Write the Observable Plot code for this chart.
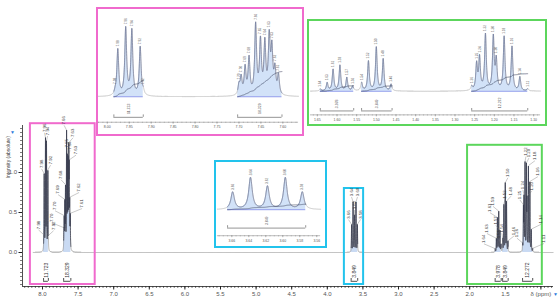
<!DOCTYPE html>
<html><head><meta charset="utf-8">
<script src="https://cdn.jsdelivr.net/npm/d3@7"></script>
<script src="https://cdn.jsdelivr.net/npm/@observablehq/plot@0.6"></script>
<style>
html,body{margin:0;padding:0;background:#fff;}
#chart{position:relative;width:559px;height:307px;overflow:hidden;font-family:"Liberation Sans",Arial,sans-serif;}
#chart > svg{position:absolute;left:0;top:0;}
.inset{position:absolute;box-sizing:border-box;border:2px solid;background:#fff;}
.inset svg{position:absolute;left:-2px;top:-2px;}
</style></head><body>
<div id="chart"></div>
<script>
// ---- peak lists (chemical shift in ppm, apex intensity) ----
const arom1Ppm = [7.982, 7.976, 7.958, 7.944, 7.925, 7.918];
const arom1Height = [0.06, 0.94, 1.37, 1.33, 0.99, 0.08];
const arom2Ppm = [7.700, 7.695, 7.686, 7.677, 7.662, 7.651, 7.641, 7.631, 7.625, 7.618, 7.610];
const arom2Height = [0.20, 0.35, 0.55, 0.74, 1.42, 1.07, 1.03, 1.13, 0.88, 0.49, 0.39];
const oxyPpm = [3.659, 3.638, 3.618, 3.597, 3.577];
const oxyHeight = [0.34, 0.62, 0.45, 0.62, 0.34];
const alkAPpm = [1.6425, 1.625, 1.610, 1.5925, 1.575, 1.560];
const alkAHeight = [0.04, 0.16, 0.42, 0.50, 0.26, 0.09];
const alkBPpm = [1.5375, 1.520, 1.500, 1.4825, 1.4625];
const alkBHeight = [0.16, 0.58, 0.85, 0.62, 0.13];
const alkCPpm = [1.2575, 1.245, 1.2375, 1.2225, 1.2025, 1.195, 1.175, 1.155, 1.135, 1.115];
const alkCHeight = [0.08, 0.51, 0.63, 1.09, 1.03, 0.57, 1.05, 0.86, 0.27, 0.04];

// ---- integration regions ----
const integFrom = [7.985, 7.703, 3.665, 1.6425, 1.5375, 1.2575];
const integTo = [7.918, 7.602, 3.573, 1.5575, 1.4600, 1.1150];
const integValue = [11.723, 18.329, 3.849, 3.978, 3.849, 12.272];

// ---- tick labels ----
const mainXTicks = [8.0, 7.5, 7.0, 6.5, 6.0, 5.5, 5.0, 4.5, 4.0, 3.5, 3.0, 2.5, 2.0, 1.5, 1.0];
const mainYTicks = [0.0, 0.5, 1.0];
const pinkTicks = [8.00, 7.95, 7.90, 7.85, 7.80, 7.75, 7.70, 7.65, 7.60];
const cyanTicks = [3.66, 3.64, 3.62, 3.60, 3.58, 3.56];
const greenTicks = [1.65, 1.60, 1.55, 1.50, 1.45, 1.40, 1.35, 1.30, 1.25, 1.20, 1.15, 1.10];

// ---- zoom windows marked on the full spectrum ----
const zoomPpmFrom = [8.17, 3.76, 2.03];
const zoomPpmTo = [7.26, 3.49, 0.98];
const zoomIntTop = [1.61, 0.80, 1.34];
const zoomIntBottom = [-0.40, -0.40, -0.40];

// ---------------------------------------------------------------
const chart = document.getElementById("chart");
const FONT = '"Liberation Sans", Arial, sans-serif';
const groups = [[arom1Ppm, arom1Height], [arom2Ppm, arom2Height], [oxyPpm, oxyHeight],
                [alkAPpm, alkAHeight], [alkBPpm, alkBHeight], [alkCPpm, alkCHeight]];
const peaks = groups.flatMap(([p, h], g) => p.map((ppm, i) => ({ppm, h: h[i], g})));
const regions = integFrom.map((f, i) => ({from: f, to: integTo[i], value: integValue[i]}));
const LW = 0.0025;
const intensity = x => { let s = 0; for (const p of peaks) { const d = (x - p.ppm) / LW; s += p.h / (1 + d * d); } return s; };
function sample(a, b, step) {
  const n = Math.round((a - b) / step); const out = new Array(n + 1);
  for (let i = 0; i <= n; i++) { const x = a - i * step; out[i] = {x, y: intensity(x)}; }
  return out;
}
const regionOf = x => regions.findIndex(r => x <= r.from && x >= r.to);
const inRegions = s => s.map(d => ({...d, r: regionOf(d.x)})).filter(d => d.r >= 0);
function integralCurves(reg) {
  const out = [];
  d3.groups(reg, d => d.r).forEach(([r, arr]) => {
    const total = d3.sum(arr, d => d.y); let c = 0; const top = regions[r].value * 0.028;
    arr.forEach(d => { c += d.y; out.push({x: d.x, iy: c / total * top, r}); });
  });
  return out;
}

// ---------------- main spectrum ----------------
const mainSamples = sample(8.13, 0.83, 0.0004);
const mainReg = inRegions(mainSamples);
const pxPerPpm = 531 / 7.458;
const fanGroups = [[0], [1], [2], [3, 4, 5]];
const mainLabels = [];
fanGroups.forEach(gs => {
  const ps = peaks.filter(p => gs.includes(p.g)).sort((a, b) => b.ppm - a.ppm);
  const center = (ps[0].ppm + ps[ps.length - 1].ppm) / 2, n = ps.length;
  ps.forEach((p, i) => {
    const lx = center - (i - (n - 1) / 2) * 3.0 / pxPerPpm;
    const apex = intensity(p.ppm);
    mainLabels.push({ppm: p.ppm, apex, lx, ly: apex + 0.07, text: p.ppm.toFixed(2)});
  });
});
const minorX = d3.range(17, 166).map(i => +(i * 0.05).toFixed(2));
const minorY = d3.range(-8, 32).map(i => +(i * 0.05).toFixed(2));
const zoomColors = ["#f06acd", "#22c3ec", "#5cd65c"];
const zoomBoxes = zoomPpmFrom.map((f, i) => ({x1: f, x2: zoomPpmTo[i], y1: zoomIntBottom[i], y2: zoomIntTop[i]}));

const main = Plot.plot({
  width: 559, height: 307,
  marginLeft: 22, marginRight: 6, marginTop: 125, marginBottom: 21,
  x: {domain: [8.281, 0.823]},
  y: {domain: [-0.425, 1.5875]},
  style: {fontFamily: FONT, background: "#fff", overflow: "visible"},
  marks: [
    Plot.areaY(mainReg, {x: "x", y: "y", z: "r", fill: "#c9daf3"}),
    Plot.line(mainSamples, {x: "x", y: "y", stroke: "#8e8e8e", strokeWidth: 0.7}),
    Plot.line(mainReg, {x: "x", y: "y", z: "r", stroke: "#363b4f", strokeWidth: 0.7}),
    ...zoomBoxes.map((b, i) => Plot.rect([b], {x1: "x1", x2: "x2", y1: "y1", y2: "y2", fill: "none", stroke: zoomColors[i], strokeWidth: 2})),
    Plot.ruleY(regions, {y: -0.36, x1: "from", x2: "to", stroke: "#222", strokeWidth: 0.8}),
    Plot.ruleX(regions.flatMap(r => [r.from, r.to]), {x: d => d, y1: -0.36, y2: -0.325, stroke: "#222", strokeWidth: 0.8}),
    Plot.text(regions, {x: d => (d.from + d.to) / 2, y: -0.315, text: d => d.value.toFixed(3), rotate: -90, textAnchor: "start", fontSize: 5, fill: "#333"}),
    Plot.link(mainLabels, {x1: "ppm", y1: "apex", x2: "lx", y2: d => d.ly - 0.01, stroke: "#777", strokeWidth: 0.4}),
    Plot.text(mainLabels, {x: "lx", y: "ly", text: "text", rotate: -90, textAnchor: "start", fontSize: 4.3, fill: "#333"}),
    Plot.ruleY([-0.425], {stroke: "#222", strokeWidth: 0.8}),
    Plot.ruleX([8.281], {stroke: "#222", strokeWidth: 0.8}),
    Plot.axisX({ticks: minorX, tickSize: 2, fill: "none", label: null, stroke: "#222", strokeWidth: 0.6}),
    Plot.axisX({ticks: mainXTicks, tickSize: 3.5, tickPadding: 2, tickFormat: d => d === 1 ? "δ (ppm)" : d.toFixed(1), fontSize: 6, fill: "#555", label: null, stroke: "#222"}),
    Plot.axisY({ticks: minorY, tickSize: 2, fill: "none", label: null, stroke: "#222", strokeWidth: 0.6}),
    Plot.axisY({ticks: mainYTicks, tickSize: 3.5, tickPadding: 2, tickFormat: d => d.toFixed(1), fontSize: 6, fill: "#555", label: null, stroke: "#222"}),
    Plot.text(["Intensity (absolute)"], {x: 8.281, y: 1.19, dx: -14, rotate: -90, fontSize: 5, fill: "#444"}),
    Plot.text(["▼"], {x: 8.281, y: 1.5, dx: -10, fontSize: 5, fill: "#2b7bdc"}),
    Plot.text(["▼"], {x: 0.823, y: -0.425, dx: 2, dy: 8, fontSize: 5, fill: "#2b7bdc"})
  ]
});
chart.appendChild(main);

// ---------------- insets ----------------
function drawInset(c) {
  const samples = sample(c.xDomain[0], c.xDomain[1], 0.0002);
  const reg = inRegions(samples);
  const regs = regions.filter(r => r.from <= c.xDomain[0] && r.to >= c.xDomain[1]);
  const integ = integralCurves(reg);
  const ps = peaks.filter(p => p.ppm <= c.xDomain[0] && p.ppm >= c.xDomain[1]).map(p => ({...p, apex: intensity(p.ppm)}));
  const minor = d3.range(Math.ceil(c.xDomain[1] / c.minorStep - 1e-9), Math.floor(c.xDomain[0] / c.minorStep + 1e-9) + 1).map(i => +(i * c.minorStep).toFixed(4));
  const svg = Plot.plot({
    width: c.width, height: c.height,
    marginLeft: c.ml, marginRight: c.mr, marginTop: c.mt, marginBottom: c.mb,
    x: {domain: c.xDomain},
    y: {domain: c.yDomain, axis: null},
    style: {fontFamily: FONT, background: "transparent", overflow: "visible"},
    marks: [
      Plot.areaY(reg, {x: "x", y: "y", z: "r", fill: "#d2e2f8"}),
      Plot.line(samples, {x: "x", y: "y", stroke: "#a5a5a5", strokeWidth: 0.6}),
      Plot.line(reg, {x: "x", y: "y", z: "r", stroke: "#66739c", strokeWidth: 0.6}),
      Plot.ruleY(regs, {y: 0, x1: "from", x2: "to", stroke: "#6f7fe6", strokeWidth: 0.8}),
      Plot.line(integ, {x: "x", y: "iy", z: "r", stroke: "#3e4560", strokeWidth: 0.6}),
      Plot.ruleY(regs, {y: c.bracketY, x1: "from", x2: "to", stroke: "#777", strokeWidth: 0.8}),
      Plot.ruleX(regs.flatMap(r => [r.from, r.to]), {x: d => d, y1: c.bracketY, y2: c.bracketY + 2.5 / c.pxPerUnit, stroke: "#777", strokeWidth: 0.8}),
      Plot.text(regs, {x: d => (d.from + d.to) / 2, y: c.labelY, text: d => d.value.toFixed(3), rotate: -90, textAnchor: "start", fontSize: 3.5, fill: "#555"}),
      Plot.text(ps, {x: "ppm", y: d => d.apex + 2 / c.pxPerUnit, text: d => d.ppm.toFixed(2), rotate: -90, textAnchor: "start", fontSize: 3.2, fill: "#555"}),
      Plot.ruleY([c.yDomain[0]], {stroke: "#8a8a8a", strokeWidth: 0.6}),
      Plot.axisX({ticks: minor, tickSize: 1.2, fill: "none", label: null, stroke: "#8a8a8a", strokeWidth: 0.5}),
      Plot.axisX({ticks: c.ticks, tickSize: 2, tickPadding: 1.5, tickFormat: d => d.toFixed(2), fontSize: 3.6, fill: "#555", label: null, stroke: "#8a8a8a", strokeWidth: 0.6})
    ]
  });
  const div = document.createElement("div");
  div.className = "inset";
  div.style.cssText = `left:${c.left}px;top:${c.top}px;width:${c.width}px;height:${c.height}px;border-color:${c.color}`;
  div.appendChild(svg);
  chart.appendChild(div);
}

drawInset({left: 96, top: 7, width: 208, height: 129, color: zoomColors[0],
  ml: 2, mr: 2, mt: 4, mb: 12, xDomain: [8.0201, 7.5643], yDomain: [-0.52, 1.74],
  pxPerUnit: 50, bracketY: -0.42, labelY: -0.35, ticks: pinkTicks, minorStep: 0.01});
drawInset({left: 307, top: 19, width: 240, height: 107, color: zoomColors[2],
  ml: 3, mr: 3, mt: 3, mb: 10, xDomain: [1.6675, 1.0825], yDomain: [-0.4615, 1.346],
  pxPerUnit: 52, bracketY: -0.385, labelY: -0.33, ticks: greenTicks, minorStep: 0.01});
drawInset({left: 214, top: 160, width: 113, height: 88, color: zoomColors[1],
  ml: 3, mr: 3, mt: 3, mb: 10, xDomain: [3.677, 3.5555], yDomain: [-0.509, 0.906],
  pxPerUnit: 53, bracketY: -0.36, labelY: -0.30, ticks: cyanTicks, minorStep: 0.005});
</script>
</body></html>
